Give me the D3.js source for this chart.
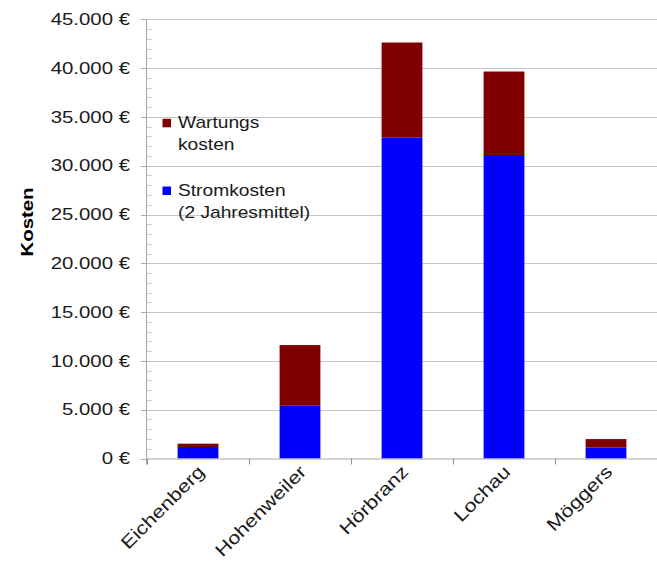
<!DOCTYPE html>
<html>
<head>
<meta charset="utf-8">
<script src="https://cdn.jsdelivr.net/npm/d3@7"></script>
<style>
  html, body { margin: 0; padding: 0; background: #fff; }
  svg { display: block; font-family: "Liberation Sans", Arial, sans-serif; }
</style>
</head>
<body>
<svg id="chart" width="657" height="563"></svg>
<script>
// Kosten je Gemeinde: Stromkosten (2-Jahresmittel) und Wartungskosten in Euro
const categories = ["Eichenberg", "Hohenweiler", "Hörbranz", "Lochau", "Möggers"];
const stromkosten = [1180, 5400, 32900, 31100, 1110];
const wartungskosten = [340, 6220, 9720, 8550, 880];
const yTicks = [0, 5000, 10000, 15000, 20000, 25000, 30000, 35000, 40000, 45000];
const seriesNames = ["Wartungs\nkosten", "Stromkosten\n(2 Jahresmittel)"];
const seriesColors = ["#800000", "#0000ff"];

const svg = d3.select("#chart");
const plotLeft = 147, plotRight = 657, plotTop = 19.3, plotBottom = 458.5;
const stretch = 1.2; // wide set type: glyphs widened along the baseline

const x = d3.scaleBand().domain(categories).range([plotLeft, plotRight])
  .paddingInner(0.6).paddingOuter(0.3);
const y = d3.scaleLinear().domain([0, 45000]).range([plotBottom, plotTop]);
const gap = (x.step() - x.bandwidth()) / 2;

const fmt = v => d3.format(",")(v).replace(/,/g, ".") + " €";

// horizontal gridlines at the major ticks
svg.append("g").selectAll("line").data(yTicks.filter(v => v > 0)).join("line")
  .attr("x1", plotLeft).attr("x2", plotRight)
  .attr("y1", d => Math.round(y(d)) + 0.5).attr("y2", d => Math.round(y(d)) + 0.5)
  .attr("stroke", "#c6c6c6").attr("stroke-width", 1);

// minor ticks every 1000 on the inside of the value axis
svg.append("g").selectAll("line").data(d3.range(1000, 45001, 1000).filter(v => v % 5000)).join("line")
  .attr("x1", plotLeft).attr("x2", plotLeft + 5)
  .attr("y1", d => Math.round(y(d)) + 0.5).attr("y2", d => Math.round(y(d)) + 0.5)
  .attr("stroke", "#d0d0d0");

// stacked bars
const stack = d3.stack().keys([0, 1])
  .value((d, k) => k === 0 ? stromkosten[d] : wartungskosten[d]);
const layers = stack(d3.range(categories.length));
const layerColors = ["#0000ff", "#800000"];
svg.append("g").selectAll("g").data(layers).join("g")
  .attr("fill", (d, i) => layerColors[i])
  .selectAll("rect").data(d => d).join("rect")
  .attr("x", (d, i) => x(categories[i]))
  .attr("width", x.bandwidth())
  .attr("y", d => y(d[1]))
  .attr("height", d => y(d[0]) - y(d[1]));

// value axis
svg.append("line").attr("x1", plotLeft - 0.5).attr("x2", plotLeft - 0.5)
  .attr("y1", plotTop).attr("y2", plotBottom + 6).attr("stroke", "#a8a8a8");
svg.append("g").selectAll("line").data(yTicks).join("line")
  .attr("x1", plotLeft - 6).attr("x2", plotLeft)
  .attr("y1", d => Math.round(y(d)) + 0.5).attr("y2", d => Math.round(y(d)) + 0.5)
  .attr("stroke", "#a8a8a8");
svg.append("g").selectAll("g").data(yTicks).join("g")
  .attr("transform", d => `translate(130,${y(d)})`)
  .append("text")
  .attr("transform", `scale(${stretch},1)`)
  .attr("text-anchor", "end").attr("dy", "0.34em")
  .attr("font-size", 17).attr("fill", "#1a1a1a")
  .text(fmt);

// category axis
svg.append("line").attr("x1", plotLeft).attr("x2", plotRight)
  .attr("y1", plotBottom + 0.5).attr("y2", plotBottom + 0.5).attr("stroke", "#a8a8a8");
svg.append("g").selectAll("line").data(categories).join("line")
  .attr("x1", d => Math.round(x(d) - gap) + 0.5).attr("x2", d => Math.round(x(d) - gap) + 0.5)
  .attr("y1", plotBottom).attr("y2", plotBottom + 6).attr("stroke", "#909090");
svg.append("g").selectAll("text").data(categories).join("text")
  .attr("transform", d => `translate(${x(d) + x.bandwidth() / 2 + 3},${plotBottom + 10}) rotate(-45) scale(${stretch},1)`)
  .attr("text-anchor", "end").attr("dy", "0.35em")
  .attr("font-size", 18).attr("fill", "#1a1a1a")
  .text(d => d);

// axis title
svg.append("text")
  .attr("transform", `translate(33,222) rotate(-90) scale(${stretch},1)`)
  .attr("text-anchor", "middle")
  .attr("font-size", 17).attr("font-weight", "bold").attr("fill", "#000")
  .text("Kosten");

// legend
const legend = svg.append("g");
const legendRows = [128.3, 196];
seriesNames.forEach((name, i) => {
  const g = legend.append("g").attr("transform", `translate(0,${legendRows[i]})`);
  g.append("rect").attr("x", 162.5).attr("y", -9.5).attr("width", 8.5).attr("height", 8.5)
    .attr("fill", seriesColors[i]);
  name.split("\n").forEach((line, j) => {
    g.append("g").attr("transform", `translate(178,${j * 21.5})`)
      .append("text").attr("transform", `scale(${stretch},1)`)
      .attr("font-size", 16).attr("fill", "#1a1a1a").text(line);
  });
});
</script>
</body>
</html>
